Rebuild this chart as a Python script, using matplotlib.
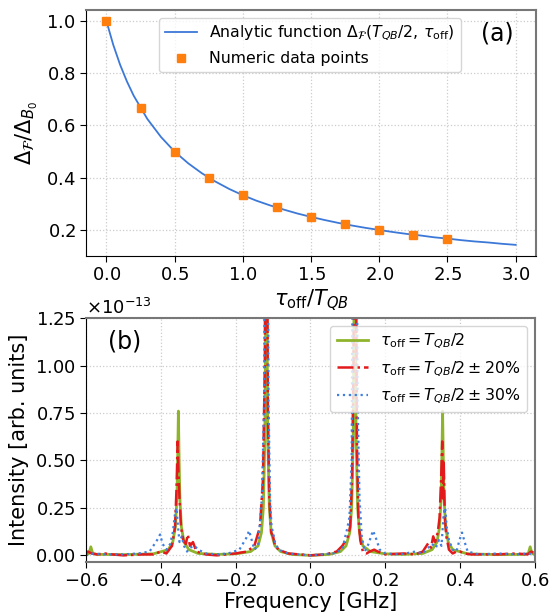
import numpy as np
import matplotlib
matplotlib.use("Agg")
import matplotlib.pyplot as plt

plt.rcParams['axes.formatter.use_mathtext'] = True
plt.rcParams['font.family'] = ['DejaVu Sans']

# (a) analytic curve
curve_x = [0.0, 0.05, 0.1, 0.15, 0.2, 0.3, 0.4, 0.5, 0.6, 0.7, 0.8, 0.9, 1.0,
           1.1, 1.2, 1.3, 1.4, 1.5, 1.6, 1.7, 1.8, 1.9, 2.0, 2.1, 2.2, 2.3,
           2.4, 2.5, 2.6, 2.7, 2.8, 2.9, 3.0]
curve_y = [1.0, 0.909, 0.833, 0.769, 0.714, 0.625, 0.556, 0.5, 0.455, 0.417,
           0.385, 0.357, 0.333, 0.312, 0.294, 0.278, 0.263, 0.25, 0.238, 0.227,
           0.217, 0.208, 0.2, 0.192, 0.185, 0.179, 0.172, 0.167, 0.161, 0.156,
           0.152, 0.147, 0.143]
# (a) numeric points
pts_x = [0.0, 0.25, 0.5, 0.75, 1.0, 1.25, 1.5, 1.75, 2.0, 2.25, 2.5]
pts_y = [1.0, 0.667, 0.5, 0.4, 0.333, 0.286, 0.25, 0.222, 0.2, 0.182, 0.167]

# (b) spectra, in units of 1e-13
green_f = [-0.6, -0.592, -0.587, -0.582, -0.57, -0.5, -0.42, -0.38, -0.368, -0.361,
           -0.357, -0.355, -0.353, -0.351, -0.349, -0.345, -0.338, -0.325, -0.3,
           -0.25, -0.2, -0.16, -0.14, -0.131, -0.126, -0.122, -0.12, -0.118,
           -0.116, -0.114, -0.11, -0.105, -0.095, -0.08, -0.05, 0.0,
           0.05, 0.08, 0.095, 0.105, 0.11, 0.114, 0.116, 0.118, 0.12, 0.122,
           0.126, 0.131, 0.14, 0.16, 0.2, 0.25, 0.3, 0.325, 0.338, 0.345, 0.349,
           0.351, 0.353, 0.355, 0.357, 0.361, 0.368, 0.38, 0.42, 0.5, 0.57, 0.582,
           0.587, 0.592, 0.6]
green_v = [0.003, 0.01, 0.045, 0.01, 0.005, 0.004, 0.008, 0.03, 0.07, 0.15,
           0.3, 0.5, 0.76, 0.5, 0.3, 0.15, 0.07, 0.03, 0.01,
           0.005, 0.008, 0.02, 0.05, 0.12, 0.25, 0.6, 1.2, 3.0,
           1.2, 0.6, 0.25, 0.12, 0.05, 0.02, 0.005, 0.0,
           0.005, 0.02, 0.05, 0.12, 0.25, 0.6, 1.2, 3.0, 1.2, 0.6,
           0.25, 0.12, 0.05, 0.02, 0.008, 0.005, 0.01, 0.03, 0.07, 0.15, 0.3,
           0.5, 0.76, 0.5, 0.3, 0.15, 0.07, 0.03, 0.008, 0.004, 0.005, 0.01,
           0.045, 0.01, 0.003]

red_f = [-0.6, -0.595, -0.585, -0.57, -0.55, -0.53, -0.5, -0.45, -0.42, -0.4,
         -0.385, -0.37, -0.362, -0.358, -0.355, -0.353, -0.35, -0.346, -0.34,
         -0.333, -0.328, -0.322, -0.314, -0.305, -0.28, -0.25, -0.2, -0.17,
         -0.15, -0.135, -0.127, -0.122, -0.119, -0.117, -0.114, -0.11, -0.105,
         -0.1, -0.095, -0.085, -0.06, 0.0,
         0.04, 0.07, 0.085, 0.095, 0.1, 0.106, 0.111, 0.115, 0.118, 0.121,
         0.124, 0.128, 0.133, 0.14, 0.15, 0.158, 0.17, 0.18, 0.2, 0.25, 0.28,
         0.3, 0.315, 0.322, 0.328, 0.333, 0.34, 0.345, 0.349, 0.352, 0.354,
         0.356, 0.359, 0.363, 0.37, 0.38, 0.39, 0.4, 0.41, 0.43, 0.5, 0.55,
         0.58, 0.59, 0.6]
red_v = [0.01, 0.02, 0.01, 0.005, 0.01, 0.005, 0.0, 0.005, 0.005, 0.02,
         0.01, 0.05, 0.15, 0.35, 0.6, 0.45, 0.3, 0.15, 0.08,
         0.06, 0.11, 0.05, 0.07, 0.02, 0.005, 0.0, 0.01, 0.02,
         0.05, 0.15, 0.4, 1.0, 3.0, 2.5, 0.8, 0.3, 0.12,
         0.1, 0.05, 0.03, 0.01, 0.0,
         0.005, 0.02, 0.05, 0.08, 0.1, 0.15, 0.4, 1.0, 3.0, 2.0,
         0.6, 0.2, 0.08, 0.02, 0.01, 0.02, 0.03, 0.02, 0.005, 0.01, 0.005,
         0.02, 0.065, 0.04, 0.1, 0.07, 0.12, 0.2, 0.4, 0.6, 0.3,
         0.5, 0.2, 0.1, 0.03, 0.01, 0.02, 0.02, 0.01, 0.005, 0.005, 0.01,
         0.005, 0.02, 0.01]

blue_f = [-0.6, -0.58, -0.55, -0.5, -0.46, -0.43, -0.41, -0.402, -0.395, -0.385,
          -0.375, -0.368, -0.362, -0.358, -0.354, -0.35, -0.344, -0.338, -0.33,
          -0.322, -0.31, -0.3, -0.28, -0.25, -0.22, -0.19, -0.172, -0.164,
          -0.157, -0.15, -0.14, -0.13, -0.124, -0.12, -0.116, -0.112, -0.108,
          -0.104, -0.1, -0.095, -0.085, -0.06, 0.0,
          0.06, 0.085, 0.093, 0.098, 0.104, 0.11, 0.116, 0.121, 0.126, 0.131,
          0.137, 0.145, 0.155, 0.167, 0.175, 0.185, 0.2, 0.24, 0.28, 0.3, 0.31,
          0.325, 0.335, 0.343, 0.35, 0.356, 0.36, 0.364, 0.37, 0.38, 0.39,
          0.398, 0.405, 0.412, 0.42, 0.45, 0.5, 0.55, 0.58, 0.6]
blue_v = [0.0, 0.01, 0.005, 0.005, 0.01, 0.02, 0.08, 0.11, 0.06, 0.03,
          0.06, 0.12, 0.22, 0.25, 0.15, 0.07, 0.1, 0.05, 0.02,
          0.04, 0.05, 0.03, 0.01, 0.005, 0.01, 0.03, 0.09, 0.13,
          0.08, 0.03, 0.05, 0.3, 0.8, 3.0, 3.0, 0.8, 0.3,
          0.15, 0.12, 0.07, 0.03, 0.01, 0.0,
          0.01, 0.03, 0.1, 0.14, 0.2, 0.5, 3.0, 3.0, 0.8, 0.3,
          0.1, 0.02, 0.06, 0.13, 0.09, 0.03, 0.01, 0.005, 0.02, 0.01, 0.03,
          0.06, 0.04, 0.08, 0.05, 0.22, 0.25, 0.15, 0.08, 0.03, 0.02,
          0.08, 0.12, 0.07, 0.02, 0.005, 0.01, 0.005, 0.01, 0.005]

scale = 1e-13

fig = plt.figure(figsize=(5.51, 6.14), dpi=100)
ax1 = fig.add_axes([0.156, 0.583, 0.817, 0.401])
ax2 = fig.add_axes([0.156, 0.085, 0.815, 0.397])

# panel (a)
ax1.plot(curve_x, curve_y, color='#3c78d8', lw=1.3,
         label=r'Analytic function $\Delta_{\mathcal{F}}(T_{QB}/2,\, \tau_{\mathrm{off}})$')
ax1.plot(pts_x, pts_y, 's', color='#ff7f0e', ms=5.8, ls='none',
         label='Numeric data points')
ax1.set_xticks([0.0, 0.5, 1.0, 1.5, 2.0, 2.5, 3.0])
ax1.set_yticks([0.2, 0.4, 0.6, 0.8, 1.0])
ax1.set_xlabel(r'$\tau_{\mathrm{off}}/T_{QB}$', fontsize=15, labelpad=2)
ax1.set_ylabel(r'$\Delta_{\mathcal{F}}/\Delta_{B_0}$', fontsize=15)
ax1.text(0.913, 0.905, '(a)', transform=ax1.transAxes, fontsize=17,
         ha='center', va='center')
ax1.legend(loc='upper left', bbox_to_anchor=(0.145, 1.0), fontsize=11.3,
           framealpha=0.8, edgecolor='#cccccc')

# panel (b)
ax2.plot(green_f, np.array(green_v) * scale, color='#8fb42c', lw=2,
         label=r'$\tau_{\mathrm{off}} = T_{QB}/2$')
ax2.plot(red_f, np.array(red_v) * scale, color='#e31a1c', lw=1.8, ls='-.',
         label=r'$\tau_{\mathrm{off}} = T_{QB}/2 \pm 20\%$')
ax2.plot(blue_f, np.array(blue_v) * scale, color='#3f7fe0', lw=1.6, ls=':',
         label=r'$\tau_{\mathrm{off}} = T_{QB}/2 \pm 30\%$')
ax2.set_xlim(-0.6, 0.6)
ax2.set_ylim(-0.034e-13, 1.25e-13)
ax2.set_xticks([-0.6, -0.4, -0.2, 0.0, 0.2, 0.4, 0.6])
ax2.set_yticks([0, 0.25e-13, 0.5e-13, 0.75e-13, 1.0e-13, 1.25e-13])
ax2.set_xlabel('Frequency [GHz]', fontsize=15, labelpad=1)
ax2.set_ylabel('Intensity [arb. units]', fontsize=15)
ax2.yaxis.get_offset_text().set_fontsize(13)
ax2.text(0.085, 0.905, '(b)', transform=ax2.transAxes, fontsize=17,
         ha='center', va='center')
ax2.legend(loc='upper right', bbox_to_anchor=(1.0, 1.0), fontsize=11.3,
           framealpha=0.8, edgecolor='#cccccc')

for ax in (ax1, ax2):
    ax.grid(True, ls=':', color='#cccccc', lw=0.9)
    ax.tick_params(labelsize=13, direction='out', length=4)
    ax.spines['top'].set_color('#777777')
    ax.spines['right'].set_color('#777777')
    ax.spines['top'].set_linewidth(1.5)
    ax.spines['right'].set_linewidth(1.5)
ax2.spines['bottom'].set_color('#777777')
ax2.spines['bottom'].set_linewidth(1.5)

fig.savefig('out.png', dpi=100)
